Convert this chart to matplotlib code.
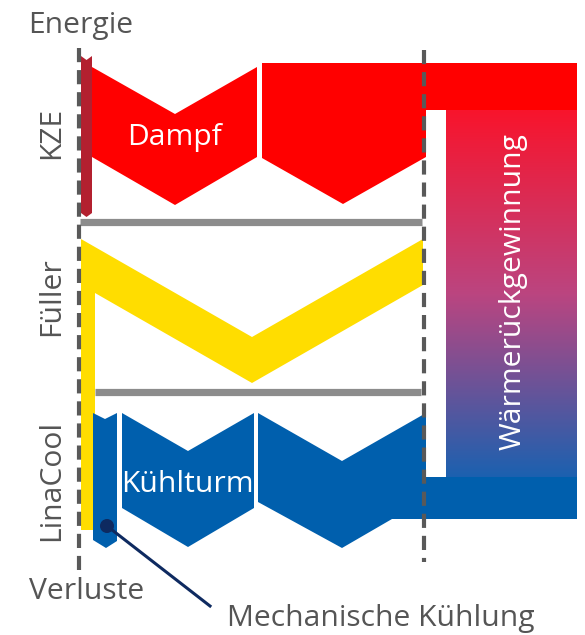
import numpy as np
import matplotlib
matplotlib.use("Agg")
from matplotlib import pyplot as plt
from matplotlib.patches import Polygon, Circle
from matplotlib.colors import LinearSegmentedColormap

plt.rcParams['font.family'] = ['Open Sans', 'DejaVu Sans']

# diagram geometry, in pixels of the 585x635 picture (y grows downwards)
kze_bar = [(81, 56), (86.5, 60), (92, 56), (92, 213), (86.5, 217), (81, 213)]
dampf_1 = [(92, 67), (175, 114), (257, 67), (257, 157), (175, 205), (92, 157)]
dampf_2 = [(262, 63), (577, 63), (577, 110), (426, 110), (426, 157),
           (343, 204), (262, 158)]
fueller = [(81, 239), (252, 337), (423, 239), (423, 285), (252, 383),
           (95, 293), (95, 530), (81, 530)]
mech_bar = [(93, 413), (105, 419), (117, 413), (117, 541), (106, 548), (93, 540)]
kuehl_1 = [(122, 413), (188, 451), (254, 413), (254, 508), (188, 547), (122, 508)]
kuehl_2 = [(258, 413), (342, 461), (426, 413), (426, 477), (577, 477),
           (577, 519), (392, 519), (342, 548), (258, 502)]

grey_bars = [((80, 422), 221.5), ((95, 421), 392)]
dash_lines = [(79, 48, 570), (424, 50, 562)]
waerme_box = (446, 577, 110, 478)
gradient_colors = ['#f8142c', '#bb4580', '#1b61b0']

labels_left = [('KZE', 133), ('Füller', 297), ('LinaCool', 480)]

RED = '#ff0000'
DARKRED = '#b3202f'
YELLOW = '#ffdd00'
BLUE = '#005fad'
GREY = '#8c8c8c'
DASH = '#595959'
NAVY = '#0e2a60'
TEXT = '#555555'
FS = 21.6

fig = plt.figure(figsize=(5.85, 6.35), dpi=100)
ax = fig.add_axes([0, 0, 1, 1])
ax.set_xlim(0, 585)
ax.set_ylim(635, 0)
ax.axis('off')

# gradient box for heat recovery
x0, x1, y0, y1 = waerme_box
cmap = LinearSegmentedColormap.from_list('wrg', gradient_colors)
grad = np.linspace(0, 1, 256).reshape(-1, 1)
ax.imshow(grad, cmap=cmap, extent=(x0, x1, y1, y0), aspect='auto', zorder=1)
ax.text((x0 + x1) / 2 + 2, (y0 + y1) / 2 - 2, 'Wärmerückgewinnung', color='white',
        fontsize=FS, rotation=90, ha='center', va='center', zorder=5)

for pts, col in [(dampf_1, RED), (dampf_2, RED), (kze_bar, DARKRED),
                 (fueller, YELLOW), (kuehl_1, BLUE), (kuehl_2, BLUE),
                 (mech_bar, BLUE)]:
    ax.add_patch(Polygon(pts, closed=True, facecolor=col, edgecolor='none', zorder=2))

for (xa, xb), y in grey_bars:
    ax.plot([xa, xb], [y, y], color=GREY, lw=5.2, solid_capstyle='butt', zorder=2)

for x, ya, yb in dash_lines:
    ax.plot([x, x], [ya, yb], color=DASH, lw=3, linestyle=(0, (3.4, 1.9)),
            dash_capstyle='butt', zorder=3)

# mechanical cooling pointer
ax.add_patch(Circle((107, 526), 7, facecolor=NAVY, edgecolor='none', zorder=4))
ax.plot([107, 210], [526, 606], color=NAVY, lw=2.2, zorder=4)

ax.text(175, 137, 'Dampf', color='white', fontsize=FS, ha='center', va='center', zorder=5)
ax.text(187, 484, 'Kühlturm', color='white', fontsize=FS, ha='center', va='center', zorder=5)

ax.text(28, 33, 'Energie', color=TEXT, fontsize=FS, ha='left', va='baseline')
ax.text(29, 599, 'Verluste', color=TEXT, fontsize=FS, ha='left', va='baseline')
ax.text(227, 626, 'Mechanische Kühlung', color=TEXT, fontsize=FS, ha='left', va='baseline')
for name, y in labels_left:
    ax.text(52, y, name, color=TEXT, fontsize=FS, rotation=90, ha='center', va='center')

fig.savefig('out.png', dpi=100)
